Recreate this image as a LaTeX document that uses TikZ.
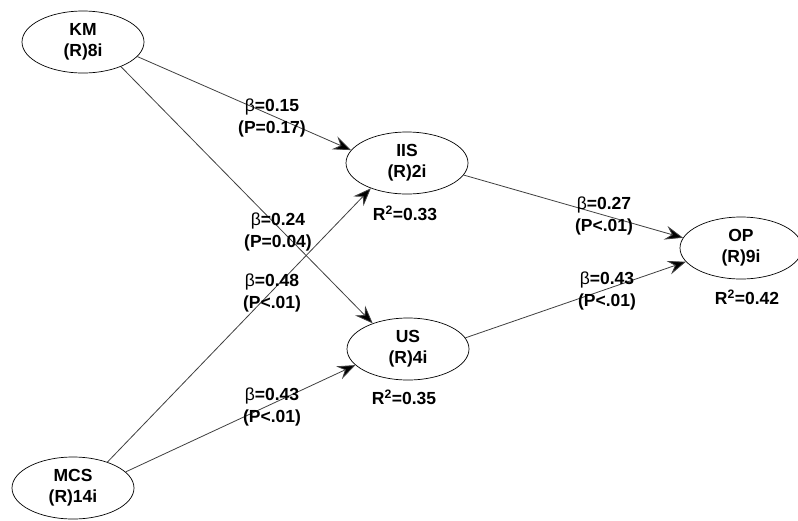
\documentclass[tikz,border=0pt]{standalone}
\usepackage{fontspec}
\setmainfont{Liberation Sans}
\usetikzlibrary{shapes.geometric,arrows.meta}
\begin{document}
\begin{tikzpicture}[x=1pt,y=-1pt,
  lv/.style={ellipse,draw,line width=0.7pt,minimum width=122pt,minimum height=62pt,inner sep=0pt,align=center,font=\fontsize{17.5}{21}\selectfont\bfseries},
  pathline/.style={draw=black!75,line width=0.8pt,-{Stealth[length=18pt,width=14pt,inset=6.5pt,fill=black]}},
  lbl/.style={align=center,font=\fontsize{17.5}{22}\selectfont\bfseries,inner sep=0pt},
  rsq/.style={font=\fontsize{17.5}{20}\selectfont\bfseries,inner sep=0pt}
]
\useasboundingbox (0,0) rectangle (798,520);
\fill[white] (0,0) rectangle (798,520);

\node[lv] (KM)  at (83,42)    {KM\\(R)8i};
\node[lv] (IIS) at (407,163)  {IIS\\(R)2i};
\node[lv] (US)  at (408,349)  {US\\(R)4i};
\node[lv] (OP)  at (741,248)  {OP\\(R)9i};
\node[lv] (MCS) at (73,488)   {MCS\\(R)14i};

\draw[pathline] (KM.-15)   -- (IIS.167);
\draw[pathline] (KM.-33)   -- (US.144);
\draw[pathline] (MCS.37)   -- (IIS.215);
\draw[pathline] (MCS.17)   -- (US.197);
\draw[pathline] (IIS.-12)  -- (OP.170);
\draw[pathline] (US.11)    -- (OP.194);

\node[lbl] (l1) at (272,118) {{\mdseries β}=0.15\\(P=0.17)};
\node[lbl] (l2) at (278,232) {{\mdseries β}=0.24\\(P=0.04)};
\node[lbl] (l3) at (272,293) {{\mdseries β}=0.48\\(P<.01)};
\node[lbl] (l4) at (272,407) {{\mdseries β}=0.43\\(P<.01)};
\node[lbl] (l5) at (604,216) {{\mdseries β}=0.27\\(P<.01)};
\node[lbl] (l6) at (607,291) {{\mdseries β}=0.43\\(P<.01)};

\node[rsq] (r1) at (405,213) {R\textsuperscript{2}=0.33};
\node[rsq] (r2) at (404,397) {R\textsuperscript{2}=0.35};
\node[rsq] (r3) at (747,297) {R\textsuperscript{2}=0.42};
\end{tikzpicture}
\end{document}
